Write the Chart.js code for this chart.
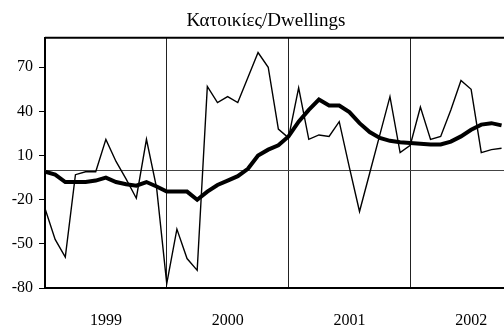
<!DOCTYPE html>
<html lang="el">
<head>
  <meta charset="UTF-8">
  <title>Κατοικίες/Dwellings</title>
  <script src="https://cdn.jsdelivr.net/npm/chart.js"></script>
  <style>
    html, body {
      margin: 0;
      padding: 0;
      background: #fff;
      overflow: hidden;
    }
    #dwellingsChart {
      display: block;
    }
  </style>
</head>
<body>
  <canvas id="dwellingsChart" width="534" height="327"></canvas>
  <script>
    // Ετήσιες ετικέτες και μηνιαίες τιμές (Ιαν. 1999 - Οκτ. 2002)
    const years = ['1999', '2000', '2001', '2002'];
    const monthly = [
      -26, -47, -59, -3, -1, -1, 21, 6, -6, -19, 21, -12,
      -77, -40, -60, -68, 57, 46, 50, 46, 63, 80, 70, 28,
      22, 56, 21, 24, 23, 33, 2, -28, -2, 24, 50, 12,
      17, 43, 21, 23, 41, 61, 55, 12, 14, 15
    ];
    const trend = [
      -1, -3, -8, -8, -8, -7, -5, -8, -9.5, -10.5, -8, -11,
      -14.5, -14.5, -14.5, -20, -14.5, -10, -7, -4, 1, 10, 14, 17,
      23, 33, 41, 48, 44, 44, 39.5, 32, 26, 22, 20, 19,
      18.5, 18, 17.5, 17.5, 19.5, 23, 27.5, 31, 32, 30.5
    ];
    const yTicks = [-80, -50, -20, 10, 40, 70];

    Chart.defaults.font.family = '"Liberation Serif", "Times New Roman", serif';
    Chart.defaults.color = '#000';

    // γραμμή μηδέν και πάνω πλαίσιο της περιοχής σχεδίασης
    const framePlugin = {
      id: 'frame',
      beforeDatasetsDraw(chart) {
        const { ctx, chartArea, scales } = chart;
        const y0 = scales.y.getPixelForValue(0);
        ctx.save();
        ctx.strokeStyle = '#444';
        ctx.lineWidth = 1;
        ctx.beginPath();
        ctx.moveTo(chartArea.left, Math.round(y0) + 0.5);
        ctx.lineTo(chartArea.right, Math.round(y0) + 0.5);
        ctx.stroke();
        ctx.restore();
      },
      afterDraw(chart) {
        const { ctx, chartArea } = chart;
        ctx.save();
        ctx.strokeStyle = '#000';
        ctx.lineWidth = 2;
        ctx.beginPath();
        ctx.moveTo(chartArea.left, chartArea.top);
        ctx.lineTo(chartArea.right, chartArea.top);
        ctx.stroke();
        ctx.restore();
      }
    };

    const ctx = document.getElementById('dwellingsChart').getContext('2d');
    new Chart(ctx, {
      type: 'line',
      data: {
        datasets: [{
          label: 'Μηνιαία μεταβολή',
          data: monthly.map((v, i) => ({ x: i, y: v })),
          borderColor: '#000',
          borderWidth: 1.4,
          pointRadius: 0,
          tension: 0
        }, {
          label: 'Τάση',
          data: trend.map((v, i) => ({ x: i, y: v })),
          borderColor: '#000',
          borderWidth: 4,
          pointRadius: 0,
          tension: 0
        }]
      },
      options: {
        responsive: false,
        animation: false,
        layout: { padding: { left: 0, right: 2, top: 0, bottom: 0 } },
        plugins: {
          legend: { display: false },
          tooltip: { enabled: false },
          title: {
            display: true,
            text: 'Κατοικίες/Dwellings',
            font: { size: 19, weight: 'normal' },
            color: '#000',
            padding: { top: 10, bottom: 5 }
          }
        },
        scales: {
          x: {
            type: 'linear',
            min: 0,
            max: years.length * 12,
            afterBuildTicks(scale) {
              const ticks = [];
              for (let v = 0; v <= years.length * 12; v += 6) ticks.push({ value: v });
              scale.ticks = ticks;
            },
            afterFit(scale) {
              // χωρίς επιπλέον κενό δεξιά, σταθερό ύψος άξονα
              scale.paddingLeft = 0;
              scale.paddingRight = 0;
              scale.height = 39;
            },
            ticks: {
              autoSkip: false,
              maxRotation: 0,
              padding: 23,
              font: { size: 16 },
              callback(value) {
                return value % 12 === 6 ? years[(value - 6) / 12] : '';
              }
            },
            grid: {
              drawTicks: false,
              color(c) {
                const v = c.tick && c.tick.value;
                return (v % 12 === 0 && v > 0) ? '#222' : 'rgba(0,0,0,0)';
              },
              lineWidth: 1
            },
            border: { color: '#000', width: 2 }
          },
          y: {
            min: -80,
            max: 90,
            afterBuildTicks(scale) {
              scale.ticks = yTicks.map(v => ({ value: v }));
            },
            afterFit(scale) {
              scale.width = 45;
              scale.paddingTop = 0;
              scale.paddingBottom = 0;
            },
            ticks: {
              padding: 6,
              font: { size: 16 }
            },
            grid: {
              drawOnChartArea: false,
              drawTicks: true,
              tickLength: 6,
              color: '#000'
            },
            border: { color: '#000', width: 2 }
          }
        }
      },
      plugins: [framePlugin]
    });
  </script>
</body>
</html>
